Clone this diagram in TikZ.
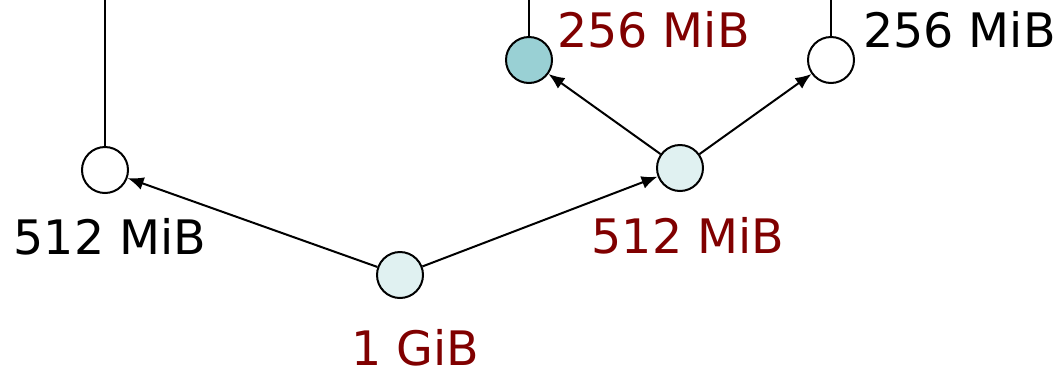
\documentclass[tikz,border=0pt]{standalone}
\usepackage{fontspec}
\setmainfont{DejaVu Sans}
\usepackage{xcolor}
\usetikzlibrary{positioning,arrows.meta}
\definecolor{memred}{HTML}{800000}
\definecolor{paleblk}{HTML}{E0F1F1}
\definecolor{usedblk}{HTML}{99D0D4}

\begin{document}
\begin{tikzpicture}[
  x=1pt, y=-1pt,
  blk/.style={draw, circle, line width=2pt, minimum size=46pt, inner sep=0pt, fill=white},
  free/.style={blk, fill=paleblk},
  used/.style={blk, fill=usedblk},
  lab/.style={font=\fontsize{47.5}{56}\selectfont, inner sep=0pt},
  hot/.style={lab, text=memred},
  arr/.style={-{Latex[length=16pt, width=13pt]}, line width=2pt},
  stem/.style={line width=2pt}]
  \useasboundingbox (0,0) rectangle (1064,373);
  \node[free] (root) at (400,275) {};
  \node[blk] (lhalf) at (105,170) {};
  \node[free] (rhalf) at (680,168) {};
  \node[used] (rlq) at (529,60) {};
  \node[blk] (rrq) at (831,60) {};
  \coordinate (ltop) at (105,0);
  \coordinate (rltop) at (529,0);
  \coordinate (rrtop) at (831,0);
  \draw[arr] (root) -- (lhalf); \draw[arr] (root) -- (rhalf);
  \draw[arr] (rhalf) -- (rlq); \draw[arr] (rhalf) -- (rrq);
  \draw[stem] (lhalf) -- (ltop); \draw[stem] (rlq) -- (rltop); \draw[stem] (rrq) -- (rrtop);
  \node[lab, anchor=base] (llab) at (110,254) {512 MiB};
  \node[hot, anchor=base] (rlab) at (688,253) {512 MiB};
  \node[hot, anchor=base] (rootlab) at (415,365) {1 GiB};
  \node[hot, anchor=base west] (rllab) at (557,47) {256 MiB};
  \node[lab, anchor=base west] (rrlab) at (863,47) {256 MiB};
\end{tikzpicture}
\end{document}
